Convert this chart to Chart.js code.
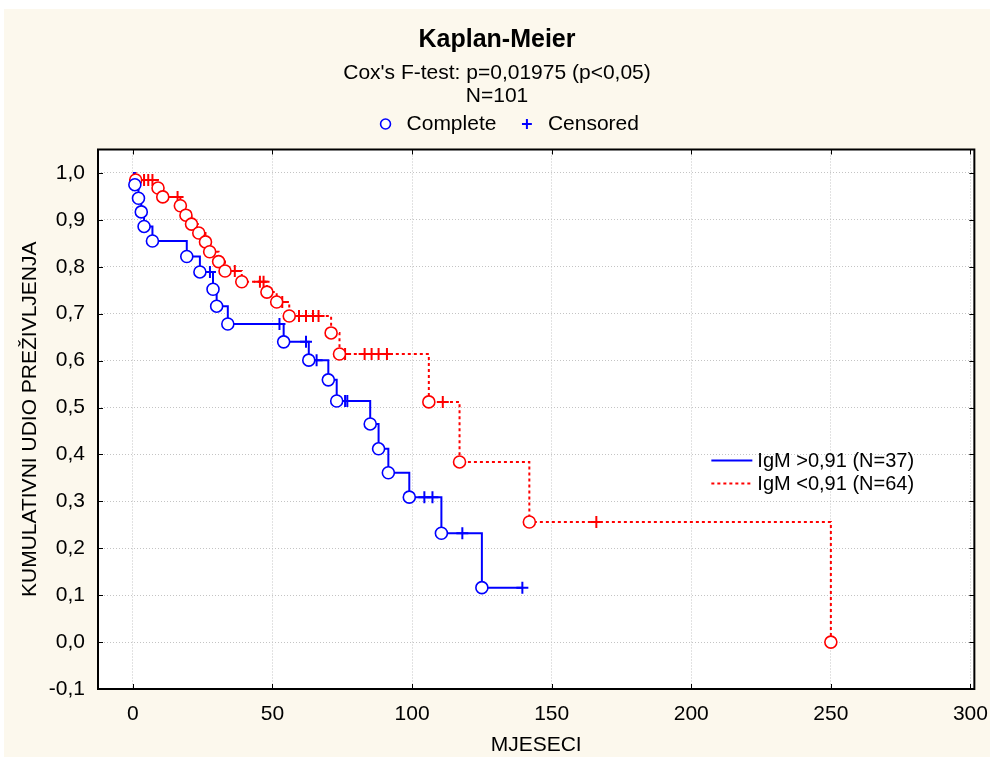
<!DOCTYPE html>
<html>
<head>
<meta charset="utf-8">
<title>Kaplan-Meier</title>
<script src="https://cdn.jsdelivr.net/npm/chart.js@4.4.1/dist/chart.umd.min.js"></script>
<style>
  html, body { margin: 0; padding: 0; background: #ffffff; }
  #wrap { position: relative; width: 994px; height: 761px; }
</style>
</head>
<body>
<div id="wrap"><canvas id="kmChart" width="994" height="761"></canvas></div>
<script>
const FONT = "'Liberation Sans', Arial, sans-serif";
Chart.defaults.font.family = FONT;
Chart.defaults.color = '#000000';

// IgM >0,91 (N=37) - complete (event) times and survival after each event
const highEventT = [0.7, 2, 3, 4, 7, 19.3, 24, 28.7, 30, 34, 54, 63, 70, 73, 85, 88, 91.5, 99, 110.5, 125];
const highEventS = [0.975, 0.946, 0.917, 0.886, 0.855, 0.822, 0.789, 0.752, 0.716, 0.678, 0.640, 0.601, 0.559, 0.514, 0.465, 0.412, 0.361, 0.309, 0.232, 0.116];
const highCensT  = [27.6, 52.5, 62, 65.8, 76, 76.8, 104.4, 107.3, 118, 139.5];

// IgM <0,91 (N=64)
const lowEventT = [1, 9, 10.7, 17, 19, 21, 23.6, 26, 27.5, 30.7, 33, 39, 48, 51.5, 56, 71, 74, 106, 117, 142, 250];
const lowEventS = [0.985, 0.968, 0.949, 0.930, 0.910, 0.891, 0.872, 0.853, 0.832, 0.811, 0.791, 0.768, 0.746, 0.725, 0.695, 0.659, 0.614, 0.512, 0.384, 0.256, 0];
const lowCensT  = [4, 5.5, 7, 16, 36.5, 45.5, 46.8, 53.5, 59.5, 62, 64.5, 66.5, 76, 83, 85.5, 88, 91, 111, 166];

const xTickStep = 50;
const yTickStep = 0.1;

const BLUE = '#0000ff';
const RED = '#ff0000';

// build step line + marker lists from events and censored times
function buildCurve(eventT, eventS, censT) {
    const all = eventT.map((t, i) => ({ t: t, s: eventS[i], ev: true }))
        .concat(censT.map(t => ({ t: t, ev: false })));
    all.sort((a, b) => a.t - b.t);
    const line = [{ x: 0, y: 1 }];
    const events = [];
    const cens = [];
    let cur = 1;
    all.forEach(p => {
        if (p.ev) {
            cur = p.s;
            events.push({ x: p.t, y: cur });
        } else {
            cens.push({ x: p.t, y: cur });
        }
        line.push({ x: p.t, y: cur });
    });
    return { line, events, cens };
}

const high = buildCurve(highEventT, highEventS, highCensT);
const low = buildCurve(lowEventT, lowEventS, lowCensT);

const fmtComma = v => v.toFixed(1).replace('.', ',');

// cream panel + white plot area
const backgroundPlugin = {
    id: 'panelBackground',
    beforeDraw(chart) {
        const ctx = chart.ctx;
        const a = chart.chartArea;
        ctx.save();
        ctx.fillStyle = '#fcf8ed';
        ctx.fillRect(4, 9, chart.width - 8, chart.height - 13);
        ctx.fillStyle = '#ffffff';
        ctx.fillRect(a.left, a.top, a.right - a.left, a.bottom - a.top);
        ctx.restore();
    }
};

// a little more room under the top legend, and center it without the trailing padding
const legendGapPlugin = {
    id: 'legendGap',
    beforeInit(chart) {
        const origFit = chart.legend.fit;
        chart.legend.fit = function fit() {
            origFit.bind(chart.legend)();
            this.height += 5;
            if (this.lineWidths && this.lineWidths.length) {
                this.lineWidths[0] -= this.options.labels.padding;
            }
        };
    }
};

// frame and inward tick marks
const framePlugin = {
    id: 'plotFrame',
    afterDraw(chart) {
        const ctx = chart.ctx;
        const a = chart.chartArea;
        const xs = chart.scales.x;
        const ys = chart.scales.y;
        ctx.save();
        ctx.strokeStyle = '#000000';
        ctx.lineWidth = 1;
        xs.ticks.forEach(t => {
            const px = Math.round(xs.getPixelForValue(t.value)) + 0.5;
            ctx.beginPath();
            ctx.moveTo(px, a.bottom); ctx.lineTo(px, a.bottom - 5);
            ctx.moveTo(px, a.top); ctx.lineTo(px, a.top + 5);
            ctx.stroke();
        });
        ys.ticks.forEach(t => {
            const py = Math.round(ys.getPixelForValue(t.value)) + 0.5;
            ctx.beginPath();
            ctx.moveTo(a.left, py); ctx.lineTo(a.left + 5, py);
            ctx.moveTo(a.right, py); ctx.lineTo(a.right - 5, py);
            ctx.stroke();
        });
        ctx.lineWidth = 2;
        ctx.strokeRect(a.left, a.top, a.right - a.left, a.bottom - a.top);
        ctx.restore();
    }
};

// group legend inside the plot area
const groupLegendPlugin = {
    id: 'groupLegend',
    afterDraw(chart) {
        const ctx = chart.ctx;
        const a = chart.chartArea;
        const x0 = a.right - 263;
        const rows = [
            { text: 'IgM >0,91 (N=37)', color: BLUE, dash: [] },
            { text: 'IgM <0,91 (N=64)', color: RED, dash: [3, 3] }
        ];
        ctx.save();
        ctx.font = '20px ' + FONT;
        ctx.textBaseline = 'middle';
        rows.forEach((r, i) => {
            const y = a.top + 311 + i * 23;
            ctx.strokeStyle = r.color;
            ctx.lineWidth = 2;
            ctx.setLineDash(r.dash);
            ctx.beginPath();
            ctx.moveTo(x0, y); ctx.lineTo(x0 + 41, y);
            ctx.stroke();
            ctx.setLineDash([]);
            ctx.fillStyle = '#000000';
            ctx.fillText(r.text, x0 + 46, y + 1);
        });
        ctx.restore();
    }
};

const ctx = document.getElementById('kmChart').getContext('2d');

const kmChart = new Chart(ctx, {
    type: 'scatter',
    data: {
        datasets: [
            {
                label: 'IgM >0,91 (N=37)',
                type: 'line',
                data: high.line,
                borderColor: BLUE,
                borderWidth: 2,
                stepped: 'before',
                pointRadius: 0,
                fill: false,
                order: 2
            },
            {
                label: 'IgM <0,91 (N=64)',
                type: 'line',
                data: low.line,
                borderColor: RED,
                borderWidth: 2,
                borderDash: [3, 3],
                stepped: 'before',
                pointRadius: 0,
                fill: false,
                order: 2
            },
            {
                label: 'high complete',
                data: high.events,
                pointStyle: 'circle',
                pointRadius: 6,
                borderColor: BLUE,
                backgroundColor: '#ffffff',
                borderWidth: 1.6,
                order: 1
            },
            {
                label: 'high censored',
                data: high.cens,
                pointStyle: 'cross',
                pointRadius: 6,
                borderColor: BLUE,
                borderWidth: 2,
                order: 1
            },
            {
                label: 'low complete',
                data: low.events,
                pointStyle: 'circle',
                pointRadius: 6,
                borderColor: RED,
                backgroundColor: '#ffffff',
                borderWidth: 1.6,
                order: 1
            },
            {
                label: 'low censored',
                data: low.cens,
                pointStyle: 'cross',
                pointRadius: 6,
                borderColor: RED,
                borderWidth: 2,
                order: 1
            }
        ]
    },
    options: {
        responsive: false,
        animation: false,
        layout: { padding: 0 },
        plugins: {
            title: {
                display: true,
                text: 'Kaplan-Meier',
                font: { size: 25, weight: 'bold' },
                color: '#000000',
                padding: { top: 25, bottom: 6.5 }
            },
            subtitle: {
                display: true,
                text: ["Cox's F-test: p=0,01975 (p<0,05)", 'N=101'],
                font: { size: 21, lineHeight: '23px' },
                color: '#000000',
                padding: { top: 0, bottom: -14 }
            },
            legend: {
                display: true,
                position: 'top',
                labels: {
                    usePointStyle: true,
                    boxWidth: 21,
                    boxHeight: 7,
                    padding: 20,
                    font: { size: 21 },
                    color: '#000000',
                    generateLabels: () => [
                        { text: 'Complete', pointStyle: 'circle', strokeStyle: BLUE, fillStyle: '#ffffff', lineWidth: 1.6, fontColor: '#000000' },
                        { text: 'Censored', pointStyle: 'cross', strokeStyle: BLUE, fillStyle: BLUE, lineWidth: 2, fontColor: '#000000' }
                    ]
                },
                onClick: null
            },
            tooltip: { enabled: false }
        },
        scales: {
            x: {
                type: 'linear',
                min: -12.5,
                max: 301.4,
                afterFit: s => { s.height = 72; },
                ticks: {
                    stepSize: xTickStep,
                    includeBounds: false,
                    padding: 6,
                    font: { size: 21, lineHeight: '39px' },
                    color: '#000000',
                    maxRotation: 0
                },
                grid: { color: '#c4c4c4', lineWidth: 1, drawTicks: false },
                border: { display: false, dash: [1, 2] },
                title: {
                    display: true,
                    text: 'MJESECI',
                    font: { size: 21 },
                    color: '#000000',
                    padding: { top: 0, bottom: 3 }
                }
            },
            y: {
                type: 'linear',
                min: -0.1,
                max: 1.05,
                afterFit: s => { s.width = 98; },
                ticks: {
                    stepSize: yTickStep,
                    includeBounds: false,
                    padding: 13,
                    font: { size: 21 },
                    color: '#000000',
                    callback: v => fmtComma(v)
                },
                grid: { color: '#c4c4c4', lineWidth: 1, drawTicks: false },
                border: { display: false, dash: [1, 2] },
                title: {
                    display: true,
                    text: 'KUMULATIVNI UDIO PREŽIVLJENJA',
                    font: { size: 21 },
                    color: '#000000',
                    padding: { top: 18, bottom: 0 }
                }
            }
        }
    },
    plugins: [backgroundPlugin, legendGapPlugin, framePlugin, groupLegendPlugin]
});
</script>
</body>
</html>
